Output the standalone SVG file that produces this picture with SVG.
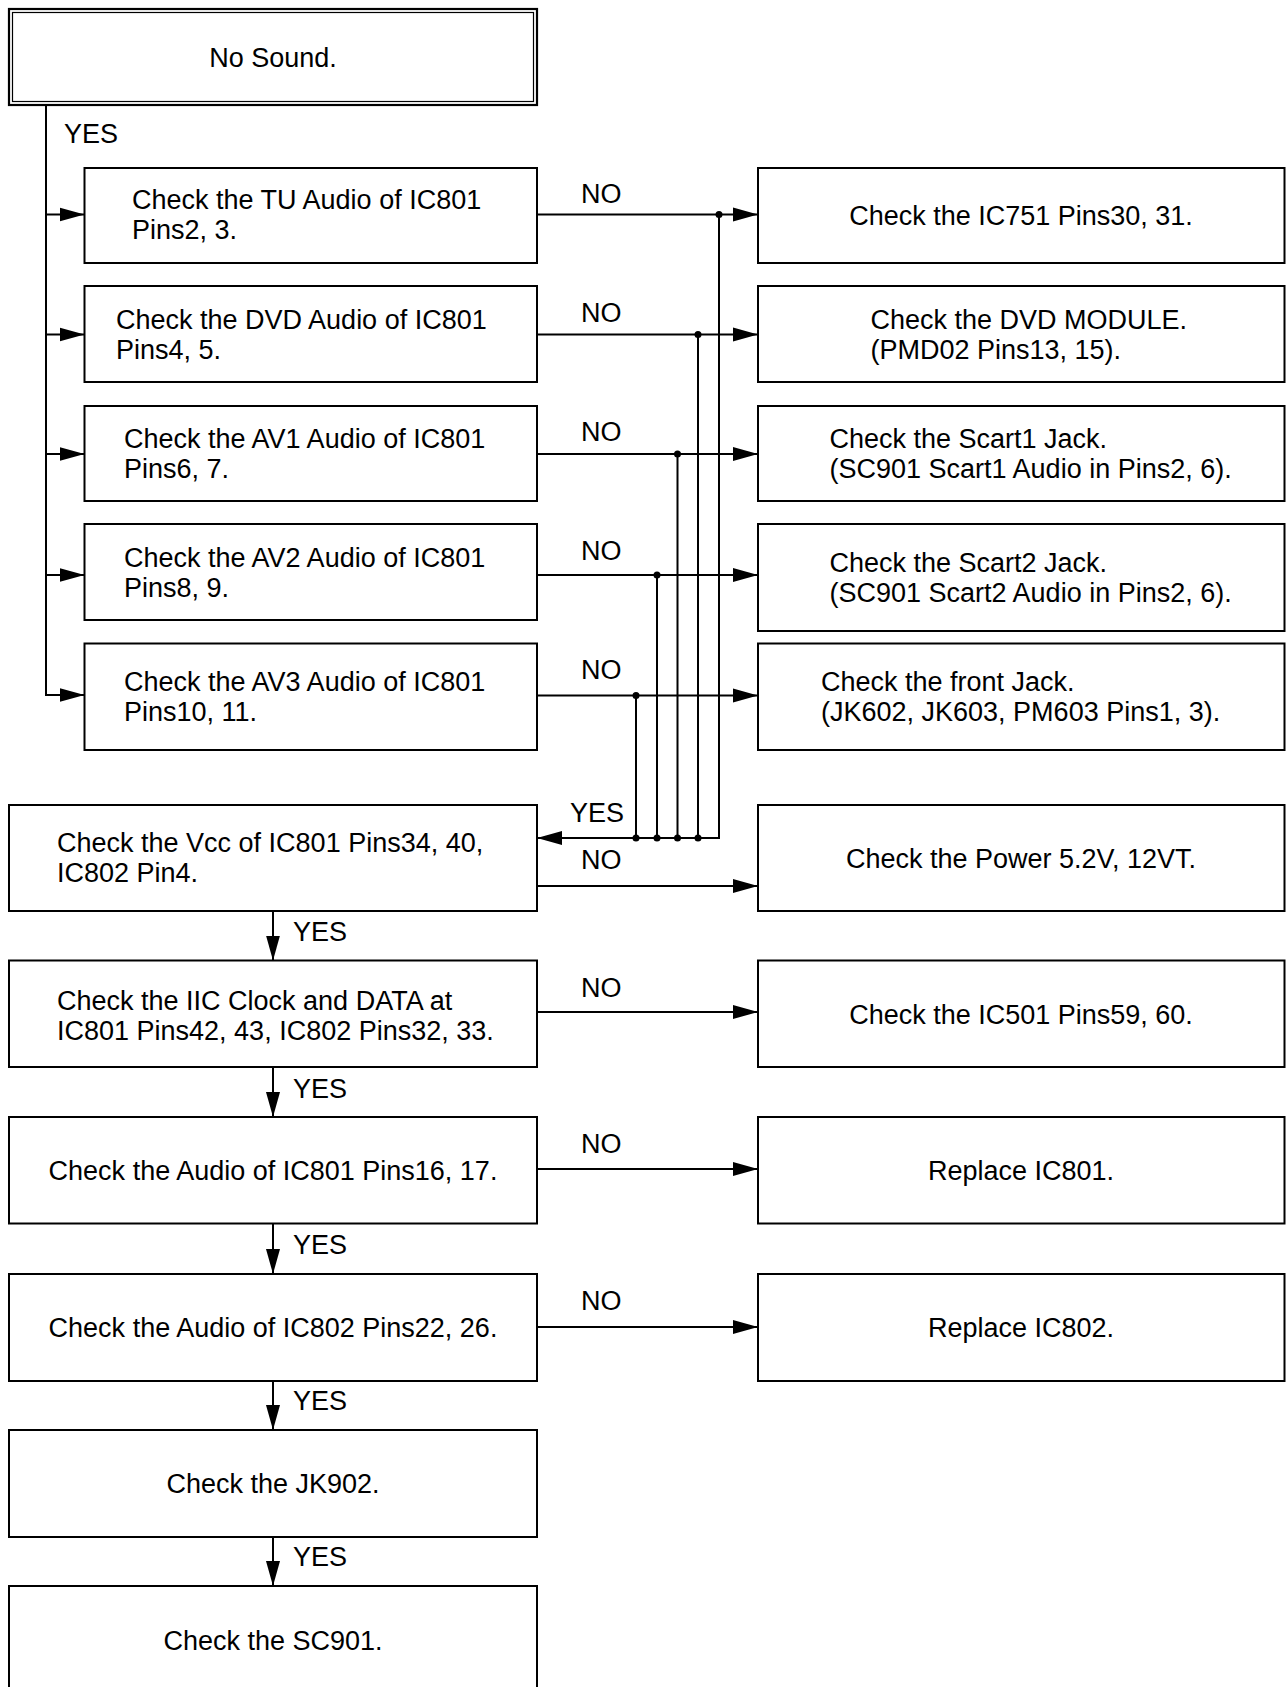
<svg xmlns="http://www.w3.org/2000/svg" width="1286" height="1687" viewBox="0 0 1286 1687">
<style>
.box{fill:#fff;stroke:#000;stroke-width:2}
.ln{fill:none;stroke:#000;stroke-width:2}
text{font-family:"Liberation Sans",Arial,Helvetica,sans-serif;font-size:27px;fill:#000}
.c{text-anchor:middle}
</style>
<defs>
<marker id="ah" markerWidth="26" markerHeight="15" refX="25" refY="7.5" orient="auto" markerUnits="userSpaceOnUse">
<path d="M0,0.5 L25,7.5 L0,14.5 z" fill="#000"/>
</marker>
</defs>
<rect width="1286" height="1687" fill="#fff"/>

<g id="connectors">
<line class="ln" x1="46" y1="105" x2="46" y2="696"/>
<line class="ln" x1="46" y1="214.5" x2="84.5" y2="214.5" marker-end="url(#ah)"/>
<line class="ln" x1="46" y1="334.5" x2="84.5" y2="334.5" marker-end="url(#ah)"/>
<line class="ln" x1="46" y1="454" x2="84.5" y2="454" marker-end="url(#ah)"/>
<line class="ln" x1="46" y1="575" x2="84.5" y2="575" marker-end="url(#ah)"/>
<line class="ln" x1="46" y1="695" x2="84.5" y2="695" marker-end="url(#ah)"/>

<line class="ln" x1="537" y1="214.5" x2="758" y2="214.5" marker-end="url(#ah)"/>
<line class="ln" x1="537" y1="334.5" x2="758" y2="334.5" marker-end="url(#ah)"/>
<line class="ln" x1="537" y1="454" x2="758" y2="454" marker-end="url(#ah)"/>
<line class="ln" x1="537" y1="575" x2="758" y2="575" marker-end="url(#ah)"/>
<line class="ln" x1="537" y1="695.5" x2="758" y2="695.5" marker-end="url(#ah)"/>

<line class="ln" x1="719" y1="214.5" x2="719" y2="838"/>
<line class="ln" x1="698" y1="334.5" x2="698" y2="838"/>
<line class="ln" x1="677.5" y1="454" x2="677.5" y2="838"/>
<line class="ln" x1="657" y1="575" x2="657" y2="838"/>
<line class="ln" x1="636" y1="695.5" x2="636" y2="838"/>
<line class="ln" x1="720" y1="838" x2="537" y2="838" marker-end="url(#ah)"/>
<g fill="#000">
<circle cx="719" cy="214.5" r="3.5"/>
<circle cx="698" cy="334.5" r="3.5"/>
<circle cx="677.5" cy="454" r="3.5"/>
<circle cx="657" cy="575" r="3.5"/>
<circle cx="636" cy="695.5" r="3.5"/>
<circle cx="698" cy="838" r="3.5"/>
<circle cx="677.5" cy="838" r="3.5"/>
<circle cx="657" cy="838" r="3.5"/>
<circle cx="636" cy="838" r="3.5"/>
</g>

<line class="ln" x1="537" y1="886" x2="758" y2="886" marker-end="url(#ah)"/>
<line class="ln" x1="537" y1="1012" x2="758" y2="1012" marker-end="url(#ah)"/>
<line class="ln" x1="537" y1="1169" x2="758" y2="1169" marker-end="url(#ah)"/>
<line class="ln" x1="537" y1="1327" x2="758" y2="1327" marker-end="url(#ah)"/>

<line class="ln" x1="273" y1="911" x2="273" y2="960.5" marker-end="url(#ah)"/>
<line class="ln" x1="273" y1="1067" x2="273" y2="1117" marker-end="url(#ah)"/>
<line class="ln" x1="273" y1="1223.5" x2="273" y2="1274" marker-end="url(#ah)"/>
<line class="ln" x1="273" y1="1381" x2="273" y2="1430" marker-end="url(#ah)"/>
<line class="ln" x1="273" y1="1537" x2="273" y2="1586" marker-end="url(#ah)"/>

<text x="64" y="143">YES</text>
<text x="581" y="202.5">NO</text>
<text x="581" y="321.5">NO</text>
<text x="581" y="441">NO</text>
<text x="581" y="559.5">NO</text>
<text x="581" y="679">NO</text>
<text x="570" y="821.5">YES</text>
<text x="581" y="868.5">NO</text>
<text x="581" y="996.5">NO</text>
<text x="581" y="1152.5">NO</text>
<text x="581" y="1309.5">NO</text>
<text x="293" y="941">YES</text>
<text x="293" y="1098">YES</text>
<text x="293" y="1254">YES</text>
<text x="293" y="1410">YES</text>
<text x="293" y="1566">YES</text>
</g>

<g id="n-nosound">
<rect x="9" y="9" width="528" height="96" fill="#fff" stroke="#000" stroke-width="2.2"/>
<rect x="12.5" y="12.5" width="521" height="89" fill="none" stroke="#000" stroke-width="1.2"/>
<text class="c" x="273" y="66.5">No Sound.</text>
</g>

<g id="n-tu"><rect class="box" x="84.5" y="168" width="452.5" height="95"/>
<text x="132" y="209">Check the TU Audio of IC801</text><text x="132" y="239">Pins2, 3.</text></g>
<g id="n-dvd"><rect class="box" x="84.5" y="286" width="452.5" height="96"/>
<text x="116" y="329">Check the DVD Audio of IC801</text><text x="116" y="359">Pins4, 5.</text></g>
<g id="n-av1"><rect class="box" x="84.5" y="406" width="452.5" height="95"/>
<text x="124" y="448">Check the AV1 Audio of IC801</text><text x="124" y="478">Pins6, 7.</text></g>
<g id="n-av2"><rect class="box" x="84.5" y="524" width="452.5" height="96"/>
<text x="124" y="567">Check the AV2 Audio of IC801</text><text x="124" y="597">Pins8, 9.</text></g>
<g id="n-av3"><rect class="box" x="84.5" y="643.5" width="452.5" height="106.5"/>
<text x="124" y="690.5">Check the AV3 Audio of IC801</text><text x="124" y="721">Pins10, 11.</text></g>

<g id="n-ic751"><rect class="box" x="758" y="168" width="526.5" height="95"/>
<text class="c" x="1021" y="224.5">Check the IC751 Pins30, 31.</text></g>
<g id="n-dvdmod"><rect class="box" x="758" y="286" width="526.5" height="96"/>
<text x="870.5" y="329">Check the DVD MODULE.</text><text x="870.5" y="359">(PMD02 Pins13, 15).</text></g>
<g id="n-scart1"><rect class="box" x="758" y="406" width="526.5" height="95"/>
<text x="829.5" y="448">Check the Scart1 Jack.</text><text x="829.5" y="478">(SC901 Scart1 Audio in Pins2, 6).</text></g>
<g id="n-scart2"><rect class="box" x="758" y="524" width="526.5" height="107"/>
<text x="829.5" y="572">Check the Scart2 Jack.</text><text x="829.5" y="602">(SC901 Scart2 Audio in Pins2, 6).</text></g>
<g id="n-front"><rect class="box" x="758" y="643.5" width="526.5" height="106.5"/>
<text x="821" y="691">Check the front Jack.</text><text x="821" y="721">(JK602, JK603, PM603 Pins1, 3).</text></g>

<g id="n-vcc"><rect class="box" x="9" y="805" width="528" height="106"/>
<text x="57" y="852">Check the Vcc of IC801 Pins34, 40,</text><text x="57" y="882">IC802 Pin4.</text></g>
<g id="n-power"><rect class="box" x="758" y="805" width="526.5" height="106"/>
<text class="c" x="1021" y="867.5">Check the Power 5.2V, 12VT.</text></g>

<g id="n-iic"><rect class="box" x="9" y="960.5" width="528" height="106.5"/>
<text x="57" y="1009.5">Check the IIC Clock and DATA at</text><text x="57" y="1040">IC801 Pins42, 43, IC802 Pins32, 33.</text></g>
<g id="n-ic501"><rect class="box" x="758" y="960.5" width="526.5" height="106.5"/>
<text class="c" x="1021" y="1024">Check the IC501 Pins59, 60.</text></g>

<g id="n-aud801"><rect class="box" x="9" y="1117" width="528" height="106.5"/>
<text class="c" x="273" y="1180">Check the Audio of IC801 Pins16, 17.</text></g>
<g id="n-rep801"><rect class="box" x="758" y="1117" width="526.5" height="106.5"/>
<text class="c" x="1021" y="1180">Replace IC801.</text></g>

<g id="n-aud802"><rect class="box" x="9" y="1274" width="528" height="107"/>
<text class="c" x="273" y="1336.5">Check the Audio of IC802 Pins22, 26.</text></g>
<g id="n-rep802"><rect class="box" x="758" y="1274" width="526.5" height="107"/>
<text class="c" x="1021" y="1336.5">Replace IC802.</text></g>

<g id="n-jk902"><rect class="box" x="9" y="1430" width="528" height="107"/>
<text class="c" x="273" y="1492.5">Check the JK902.</text></g>
<g id="n-sc901"><rect class="box" x="9" y="1586" width="528" height="110"/>
<text class="c" x="273" y="1649.5">Check the SC901.</text></g>
</svg>
